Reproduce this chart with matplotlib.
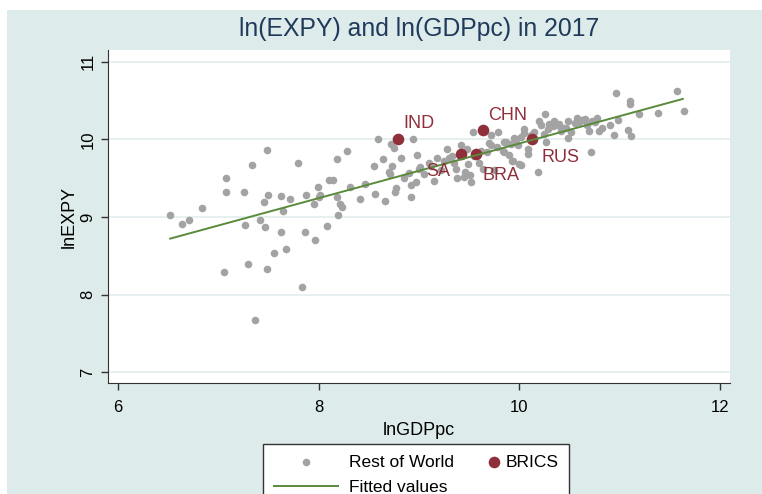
import matplotlib
matplotlib.use("Agg")
import matplotlib.pyplot as plt
from matplotlib.patches import Rectangle
from matplotlib.legend_handler import HandlerPathCollection

plt.rcParams["font.family"] = ["Liberation Sans", "DejaVu Sans"]

# Rest of World (lnGDPpc, lnEXPY)
row_x = [6.52, 6.64, 6.71, 6.84, 7.08, 7.08, 7.06, 7.26, 7.27, 7.30, 7.34, 7.37,
         7.48, 7.49, 7.45, 7.42, 7.46, 7.48, 7.55, 7.62, 7.64, 7.62, 7.67, 7.71,
         7.79, 7.83, 7.86, 7.87, 7.95, 7.96, 7.99, 8.00, 8.01, 8.08, 8.10, 8.14,
         8.18, 8.18, 8.19, 8.21, 8.23, 8.28, 8.31, 8.41, 8.46, 8.55, 8.56, 8.59,
         8.64, 8.66, 8.71, 8.72, 8.73, 8.75, 8.76, 8.77, 8.82, 8.92, 8.92, 8.94,
         8.97, 8.98, 9.01, 9.15, 9.18, 9.28, 9.30, 9.37, 9.38, 9.42, 9.45, 9.49,
         9.51, 9.52, 9.54, 9.64, 9.72, 9.72, 9.79, 9.84, 9.85, 9.85, 9.87, 9.92,
         9.93, 9.94, 9.97, 9.99, 10.00, 10.02, 10.02, 10.05, 10.09, 10.09, 10.15,
         10.19, 10.20, 10.22, 10.25, 10.26, 10.27, 10.29, 10.34, 10.40, 10.42,
         10.45, 10.49, 10.49, 10.52, 10.57, 10.59, 10.65, 10.69, 10.71, 10.72,
         10.77, 10.79, 10.82, 10.90, 10.94, 10.96, 10.98, 11.08, 11.10, 11.10,
         11.11, 11.19, 11.38, 11.57, 11.64,
         8.90, 9.05, 9.10, 9.22, 9.33, 9.46, 9.60, 9.68, 9.75, 9.90, 10.35, 10.62,
         8.70, 8.85, 9.00, 9.12, 9.25, 9.35, 9.48, 9.55, 9.62, 9.70, 9.78, 9.95,
         10.05, 10.12, 10.30, 10.38, 10.47, 10.55, 10.67, 10.75]
row_y = [9.03, 8.91, 8.96, 9.11, 9.50, 9.32, 8.29, 9.32, 8.90, 8.39, 9.67, 7.67,
         9.86, 9.28, 9.19, 8.96, 8.87, 8.33, 8.54, 9.27, 9.07, 8.81, 8.59, 9.23,
         9.69, 8.10, 8.81, 9.28, 9.17, 8.70, 9.38, 9.26, 9.28, 8.88, 9.48, 9.48,
         9.75, 9.25, 9.02, 9.16, 9.13, 9.85, 9.39, 9.23, 9.42, 9.65, 9.29, 10.00,
         9.74, 9.20, 9.55, 9.94, 9.65, 9.89, 9.32, 9.37, 9.76, 9.26, 9.41, 10.00,
         9.45, 9.80, 9.64, 9.46, 9.76, 9.88, 9.76, 9.62, 9.50, 9.92, 9.51, 9.68,
         9.54, 9.45, 10.10, 9.62, 10.05, 9.92, 10.09, 9.85, 9.96, 9.83, 9.97, 9.94,
         9.72, 9.72, 10.00, 9.92, 9.68, 10.03, 9.67, 10.13, 9.81, 9.88, 10.09,
         9.58, 10.24, 10.18, 10.07, 10.32, 9.96, 10.13, 10.17, 10.20, 10.11,
         10.15, 10.01, 10.24, 10.09, 10.28, 10.22, 10.26, 10.11, 9.83, 10.24,
         10.27, 10.11, 10.15, 10.19, 10.05, 10.59, 10.25, 10.12, 10.49, 10.46,
         10.04, 10.32, 10.34, 10.62, 10.37,
         9.57, 9.55, 9.70, 9.60, 9.78, 9.58, 9.70, 9.84, 9.60, 9.80, 10.23, 10.25,
         9.58, 9.50, 9.62, 9.66, 9.72, 9.70, 9.88, 9.78, 9.85, 9.95, 9.90, 10.02,
         10.08, 10.06, 10.20, 10.18, 10.14, 10.21, 10.18, 10.22]

# BRICS
brics_names = ["IND", "SA", "BRA", "CHN", "RUS"]
brics_x = [8.79, 9.42, 9.57, 9.64, 10.13]
brics_y = [10.00, 9.81, 9.81, 10.12, 10.00]
label_x = [8.84, 9.07, 9.63, 9.69, 10.22]
label_y = [10.20, 9.59, 9.53, 10.31, 9.77]

# fitted line end points
fit_x = [6.52, 11.63]
fit_y = [8.72, 10.52]

gray = "#a3a3a3"
maroon = "#8e2f3a"
green = "#5a8a3c"

fig = plt.figure(figsize=(7.62, 4.94), dpi=100, facecolor="white")
fig.patches.append(Rectangle((7 / 762, 0), 1, 1 - 10 / 494, transform=fig.transFigure,
                             facecolor="#deebeb", edgecolor="none", zorder=0))

ax = fig.add_axes([108 / 762, (494 - 383) / 494, (730 - 108) / 762, (383 - 50) / 494])
ax.set_zorder(2)
ax.set_facecolor("white")

ax.scatter(row_x, row_y, s=30, color=gray, linewidths=0, label="Rest of World", zorder=3)
sc_brics = ax.scatter(brics_x, brics_y, s=70, color=maroon, linewidths=0, label="BRICS", zorder=4)
ax.plot(fit_x, fit_y, color=green, lw=1.4, label="Fitted values", zorder=5)

for name, lx, ly in zip(brics_names, label_x, label_y):
    ax.text(lx, ly, name, color=maroon, fontsize=13, ha="left", va="center", zorder=6)

ax.set_xlim(5.9, 12.1)
ax.set_ylim(6.86, 11.15)
ax.set_xticks([6, 8, 10, 12])
ax.set_yticks([7, 8, 9, 10, 11])
ax.tick_params(axis="both", labelsize=12, length=5, width=1, color="#333333")
ax.tick_params(axis="x", pad=7)
ax.tick_params(axis="y", pad=4)
for lab in ax.get_yticklabels():
    lab.set_rotation(90)
    lab.set_va("center")
ax.grid(axis="y", color="#e3eeee", lw=1.2)
ax.set_axisbelow(True)
for side in ["top", "right"]:
    ax.spines[side].set_visible(False)
for side in ["left", "bottom"]:
    ax.spines[side].set_color("#333333")

ax.set_xlabel("lnGDPpc", fontsize=13, labelpad=5)
ax.set_ylabel("lnEXPY", fontsize=13, labelpad=2)
ax.set_title("ln(EXPY) and ln(GDPpc) in 2017", fontsize=17.8, color="#1f3a5a", pad=10)

h, l = ax.get_legend_handles_labels()
order = [0, 2, 1]
leg = fig.legend([h[i] for i in order], [l[i] for i in order], ncol=2,
                 loc="upper left", bbox_to_anchor=(263 / 762, 1 - 444 / 494),
                 borderaxespad=0, fontsize=12.5, frameon=True, fancybox=False,
                 edgecolor="#333333", framealpha=1, handlelength=3.7,
                 handletextpad=0.65, columnspacing=-1.4, borderpad=0.62,
                 labelspacing=0.6,
                 handler_map={sc_brics: HandlerPathCollection(xpad=3.7)})
leg.get_frame().set_linewidth(1.0)
leg.set_zorder(10)

fig.savefig("out.png", dpi=100)
